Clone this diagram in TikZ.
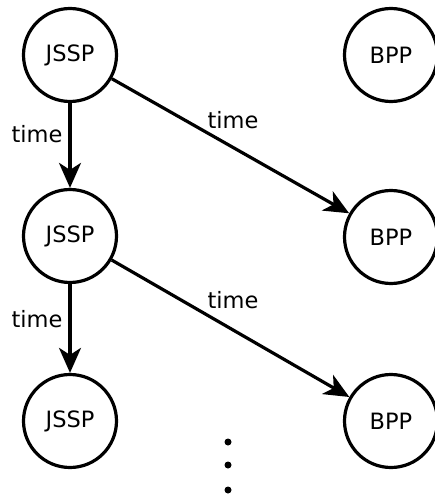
\documentclass[tikz,border=0pt]{standalone}
\usepackage{fontspec}
\setmainfont{DejaVu Sans}
\usetikzlibrary{arrows.meta}
\begin{document}
\begin{tikzpicture}[x=1pt,y=-1pt,
  state/.style={circle,draw,line width=3.2pt,minimum size=93pt,inner sep=0pt,font=\fontsize{22.5}{27}\selectfont},
  flow/.style={line width=3.2pt,-{Stealth[length=25pt,width=22pt,inset=7pt]}},
  lbl/.style={font=\fontsize{22.5}{27}\selectfont,inner sep=0pt}]
\useasboundingbox (0,0) rectangle (434,495);
\node[state] (j1) at (70,55) {JSSP};
\node[state] (j2) at (70,236) {JSSP};
\node[state] (j3) at (70,421) {JSSP};
\node[state] (b1) at (391,55) {BPP};
\node[state] (b2) at (391,237) {BPP};
\node[state] (b3) at (391,421) {BPP};
\draw[flow] (j1) -- (j2);
\draw[flow] (j2) -- (j3);
\draw[flow] (j1) -- (b2);
\draw[flow] (j2) -- (b3);
\node[lbl] (t1) at (37,134) {time};
\node[lbl] (t2) at (37,319) {time};
\node[lbl] (t3) at (233,120) {time};
\node[lbl] (t4) at (233,300) {time};
\fill (228,442) circle (3.5pt);
\fill (228,465) circle (3.5pt);
\fill (228,490) circle (3.5pt);
\end{tikzpicture}
\end{document}
